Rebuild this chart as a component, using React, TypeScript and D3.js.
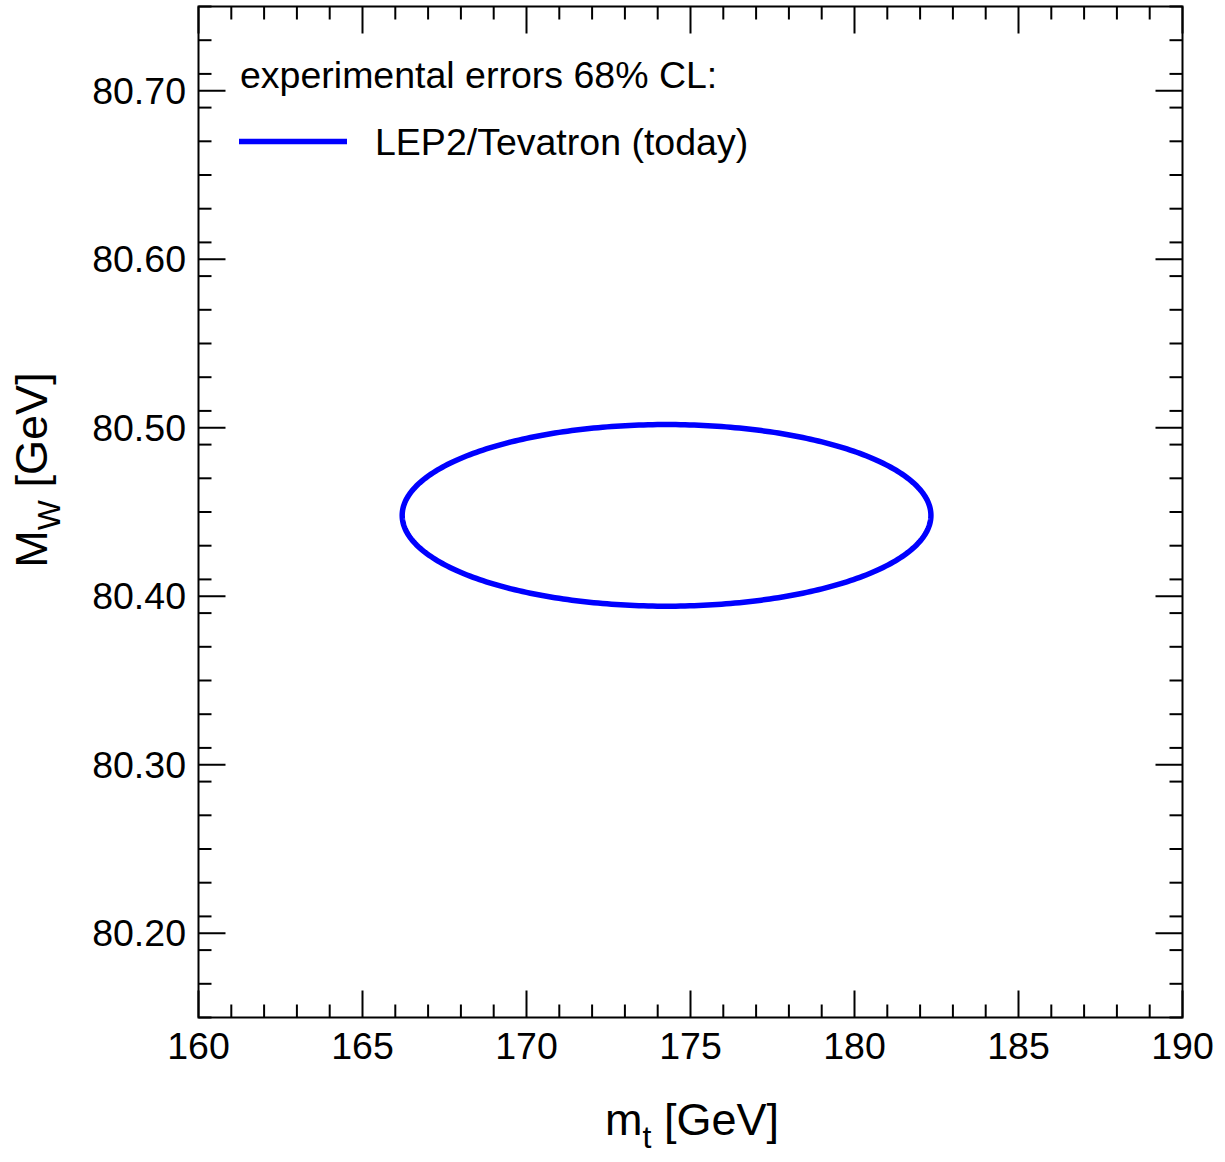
import React from "react";
import * as d3 from "d3";

const xDomain = [160, 190];
const yDomain = [80.15, 80.75];
const xMajorTicks = [160, 165, 170, 175, 180, 185, 190];
const yMajorTicks = [80.2, 80.3, 80.4, 80.5, 80.6, 80.7];
const yTickLabels = ["80.20", "80.30", "80.40", "80.50", "80.60", "80.70"];
// ellipse parameters: center mt, center MW, half-width mt, half-height MW
const ellipseCenter = [174.27, 80.448];
const ellipseHalfAxes = [8.06, 0.0539];
const legendTitle = "experimental errors 68% CL:";
const legendLabel = "LEP2/Tevatron (today)";

const W = 1225, H = 1162;
const L = 198.5, R = 1182.5, T = 6.5, B = 1017.5;
const FONT = "'Liberation Sans', Arial, sans-serif";

export default function App() {
  const x = d3.scaleLinear().domain(xDomain).range([L, R]);
  const y = d3.scaleLinear().domain(yDomain).range([B, T]);
  const xMinor = d3.range(xDomain[0], xDomain[1] + 0.001, 1).filter(v => Math.abs(v % 5) > 0.01);
  const yMinor = d3.range(0, 31).map(i => 80.15 + i * 0.02).filter(v => v >= 80.149 && v <= 80.751)
    .filter(v => Math.abs(Math.round(v * 10) / 10 - v) > 0.005);
  const angles = d3.range(0, 361, 1).map(a => (a * Math.PI) / 180);
  const pts: [number, number][] = angles.map(a => [
    ellipseCenter[0] + ellipseHalfAxes[0] * Math.cos(a),
    ellipseCenter[1] + ellipseHalfAxes[1] * Math.sin(a),
  ]);
  const line = d3.line<[number, number]>().x(d => x(d[0])).y(d => y(d[1])).curve(d3.curveLinearClosed);
  const MAJ = 27, MIN = 13;
  return (
    <svg width={W} height={H} style={{ position: "absolute", left: 0, top: 0, background: "#fff" }}>
      <rect x={0} y={0} width={W} height={H} fill="#fff" />
      <path d={line(pts) || ""} fill="none" stroke="#0000ff" strokeWidth={5.5} />
      <g stroke="#000" strokeWidth={2}>
        {xMajorTicks.map(v => (
          <g key={"xm" + v}>
            <line x1={x(v)} x2={x(v)} y1={B} y2={B - MAJ} />
            <line x1={x(v)} x2={x(v)} y1={T} y2={T + MAJ} />
          </g>
        ))}
        {xMinor.map(v => (
          <g key={"xn" + v}>
            <line x1={x(v)} x2={x(v)} y1={B} y2={B - MIN} />
            <line x1={x(v)} x2={x(v)} y1={T} y2={T + MIN} />
          </g>
        ))}
        {yMajorTicks.map(v => (
          <g key={"ym" + v}>
            <line x1={L} x2={L + MAJ} y1={y(v)} y2={y(v)} />
            <line x1={R} x2={R - MAJ} y1={y(v)} y2={y(v)} />
          </g>
        ))}
        {yMinor.map(v => (
          <g key={"yn" + v}>
            <line x1={L} x2={L + MIN} y1={y(v)} y2={y(v)} />
            <line x1={R} x2={R - MIN} y1={y(v)} y2={y(v)} />
          </g>
        ))}
        <rect x={L} y={T} width={R - L} height={B - T} fill="none" />
      </g>
      <g fontFamily={FONT} fontSize={37.5} fill="#000">
        {xMajorTicks.map(v => (
          <text key={"xl" + v} x={x(v)} y={1059} textAnchor="middle">{v}</text>
        ))}
        {yMajorTicks.map((v, i) => (
          <text key={"yl" + v} x={186} y={y(v) + 13} textAnchor="end">{yTickLabels[i]}</text>
        ))}
      </g>
      <text x={692} y={1135} fontFamily={FONT} fontSize={45} textAnchor="middle">
        m<tspan fontSize={32} dy={13}>t</tspan><tspan dy={-13}> [GeV]</tspan>
      </text>
      <text transform={`translate(47,470) rotate(-90)`} fontFamily={FONT} fontSize={45} textAnchor="middle">
        M<tspan fontSize={32} dy={13}>W</tspan><tspan dy={-13}> [GeV]</tspan>
      </text>
      <text x={240} y={88} fontFamily={FONT} fontSize={37.5}>{legendTitle}</text>
      <line x1={239} x2={347} y1={141.5} y2={141.5} stroke="#0000ff" strokeWidth={5.5} />
      <text x={375} y={155} fontFamily={FONT} fontSize={37.5}>{legendLabel}</text>
    </svg>
  );
}
